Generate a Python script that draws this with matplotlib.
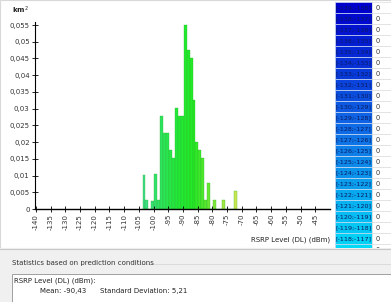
import matplotlib
matplotlib.use("Agg")
import matplotlib.pyplot as plt
from matplotlib.colors import LinearSegmentedColormap
from matplotlib.patches import Rectangle

# histogram bins (left edge, dBm) and covered area (km2)
bin_left = [-104, -103, -102, -101, -100, -99, -98, -97, -96, -95, -94, -93,
            -92, -91, -90, -89, -88, -87, -86, -85, -84, -83, -82, -81,
            -80, -79, -78, -77, -76, -75, -74, -73]
area_km2 = [0.0102, 0.0027, 0.0, 0.0025, 0.0104, 0.0027, 0.0278, 0.0227, 0.0227,
            0.0176, 0.0153, 0.0301, 0.0278, 0.0278, 0.0550, 0.0475, 0.0451,
            0.0326, 0.0201, 0.0175, 0.0152, 0.0027, 0.0077, 0.0,
            0.0027, 0.0, 0.0, 0.0027, 0.0, 0.0, 0.0, 0.0054]

x_ticks = list(range(-140, -44, 5))
y_ticks = [0, 0.005, 0.01, 0.015, 0.02, 0.025, 0.03, 0.035, 0.04, 0.045, 0.05, 0.055]
y_labels = ["0", "0,005", "0,01", "0,015", "0,02", "0,025", "0,03", "0,035",
            "0,04", "0,045", "0,05", "0,055"]

legend_low = list(range(-139, -115))
legend_counts = [0] * len(legend_low)

mean_txt = "Mean: -90,43"
std_txt = "Standard Deviation: 5,21"

W, H = 391, 302
fig = plt.figure(figsize=(W / 100, H / 100), dpi=100)
fig.patch.set_facecolor("white")

# background / legend layer in pixel coordinates
bg = fig.add_axes([0, 0, 1, 1], zorder=0)
bg.set_xlim(0, W)
bg.set_ylim(H, 0)
bg.axis("off")
bg.add_patch(Rectangle((0, 0), W, 248, facecolor="white", edgecolor="#d8d8d8", lw=0.8))

blues = LinearSegmentedColormap.from_list("rsrp", ["#0000cc", "#1070e6", "#00e4f8"])
for i, low in enumerate(legend_low):
    top = 2 + 11 * i
    c = blues(i / (len(legend_low) - 1))
    bg.add_patch(Rectangle((335, top), 37, 11, facecolor=c, edgecolor="#c8d8f0", lw=0.5))
    bg.add_patch(Rectangle((372, top), 19, 11, facecolor="white", edgecolor="#dddddd", lw=0.5))
    bg.text(353.5, top + 5.8, f"[{low};{low + 1}]", ha="center", va="center",
            fontsize=4.6, color="#0a1a60")
    bg.text(376, top + 5.8, str(legend_counts[i]), ha="left", va="center",
            fontsize=4.8, color="#333333")

# bottom statistics panel
bg.add_patch(Rectangle((0, 248), W, H - 248, facecolor="#f0f0f0", edgecolor="none", zorder=5))
bg.plot([0, W], [249, 249], color="#c8c8c8", lw=0.8, zorder=6)
bg.text(12, 263, "Statistics based on prediction conditions", fontsize=5,
        color="#333333", va="center", zorder=7)
bg.plot([139, W], [264, 264], color="#d8d8d8", lw=0.6, zorder=6)
bg.add_patch(Rectangle((12, 274), W, 40, facecolor="white", edgecolor="#a0a0a0", lw=0.7, zorder=6))
bg.text(14, 281, "RSRP Level (DL) (dBm):", fontsize=5, color="#222222", va="center", zorder=7)
bg.text(40, 291, mean_txt, fontsize=5, color="#222222", va="center", zorder=7)
bg.text(100, 291, std_txt, fontsize=5, color="#222222", va="center", zorder=7)

bg.text(12, 10, "km$^2$", fontsize=5, color="#222222", va="center", fontweight="bold")
bg.text(330, 240, "RSRP Level (DL) (dBm)", fontsize=5, color="#222222", va="center", ha="right")

# histogram axes
ax = fig.add_axes([34.5 / W, (H - 209) / H, (330 - 34.5) / W, (209 - 22) / H], zorder=2)
ax.patch.set_alpha(0)
greens = LinearSegmentedColormap.from_list(
    "lvl", [(0.0, "#3ddc8c"), (0.35, "#22e83a"), (0.55, "#22ea22"),
            (0.8, "#8ee63a"), (1.0, "#cce650")])
cols = [greens((b - bin_left[0]) / (bin_left[-1] - bin_left[0])) for b in bin_left]
ax.bar([b + 0.25 for b in bin_left], area_km2, width=1.0, align="edge", color=cols,
       edgecolor="#30b830", linewidth=0.25)

ax.set_xlim(-140.5, -40)
ax.set_ylim(0, 0.0559)
ax.set_xticks(x_ticks)
ax.set_xticklabels([str(v) for v in x_ticks], rotation=90, fontsize=5, color="#333333")
ax.set_yticks(y_ticks)
ax.set_yticklabels(y_labels, fontsize=5, color="#333333")
ax.tick_params(direction="inout", length=4, width=0.6, pad=1.5)
for s in ["top", "right"]:
    ax.spines[s].set_visible(False)
ax.spines["left"].set_linewidth(0.8)
ax.spines["bottom"].set_linewidth(1.0)

fig.savefig("out.png", dpi=100)
